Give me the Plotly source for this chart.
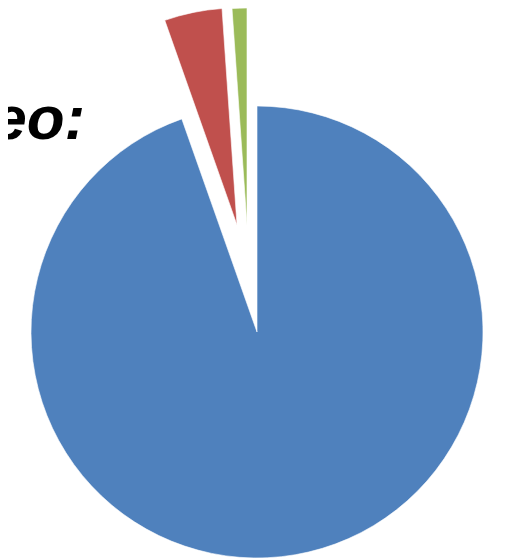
import plotly.graph_objects as go

# ---- data ----
categories = ["Blue share", "Red share", "Green share"]
shares = [94.6, 4.3, 1.1]
slice_colors = ["#4F81BD", "#C0504D", "#9BBB59"]
title_text = "Video:"

# ---- layout helpers (pixel geometry of the exploded slices) ----
W, H = 506, 560
OFF = 8  # page body margin: the figure is drawn 8px in from the window edge


def domain_for(cx, cy, r):
    """Square domain (paper fractions) giving a pie of radius r centred at window px (cx, cy)."""
    cx -= OFF
    cy -= OFF
    return dict(x=[max(0, (cx - r) / W), min(1, (cx + r) / W)],
                y=[max(0, 1 - (cy + r) / H), min(1, 1 - (cy - r) / H)])


# each slice is shown by its own pie trace (same values, other slices transparent),
# positioned to reproduce the exploded look of the original
slice_geometry = [
    (257, 332, 226),  # blue (not pulled)
    (237, 225, 217),  # red  (pulled out)
    (247, 225, 217),  # green (pulled out)
]

fig = go.Figure()
for i, (cx, cy, r) in enumerate(slice_geometry):
    colors = [c if j == i else "rgba(0,0,0,0)" for j, c in enumerate(slice_colors)]
    line_w = [1 if j == i else 0 for j in range(len(slice_colors))]
    fig.add_trace(go.Pie(
        labels=categories,
        values=shares,
        sort=False,
        direction="clockwise",
        rotation=0,
        marker=dict(colors=colors, line=dict(color="rgba(255,255,255,0.6)", width=line_w)),
        textinfo="none",
        hoverinfo="label+percent",
        showlegend=False,
        domain=domain_for(cx, cy, r),
    ))

fig.add_annotation(
    text="<b><i>" + title_text + "</i></b>",
    xref="paper", yref="paper",
    x=(87 - OFF) / W, y=1 - (118 - OFF) / H,
    xanchor="right", yanchor="middle",
    showarrow=False,
    font=dict(family="Liberation Sans, Arial, sans-serif", size=62, color="#000000"),
)

fig.update_layout(
    width=W, height=H,
    margin=dict(l=0, r=0, t=0, b=0),
    paper_bgcolor="white",
    plot_bgcolor="white",
    showlegend=False,
)

fig.write_html("out.html")
